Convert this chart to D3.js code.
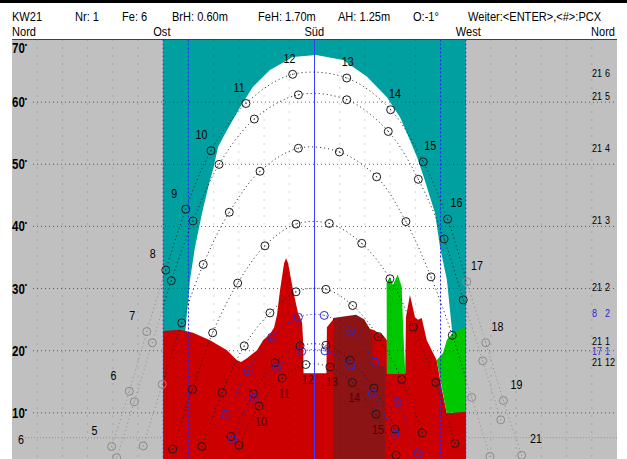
<!DOCTYPE html>
<html>
<head>
<meta charset="utf-8">
<script src="https://cdn.jsdelivr.net/npm/d3@7"></script>
<style>
  body { margin: 0; background: #fff; }
  svg text { font-family: "Liberation Sans", Arial, sans-serif; }
</style>
</head>
<body>
<div id="chart"></div>
<script>
// header texts
var headerTexts = ["KW21", "Nr: 1", "Fe: 6", "BrH: 0.60m", "FeH: 1.70m", "AH: 1.25m", "O:-1\u00b0", "Weiter:<ENTER>,<#>:PCX"];
var headerX = [12, 75, 122, 172, 258, 338, 413, 468];

// compass directions (azimuth in degrees)
var compassNames = ["Nord", "Ost", "S\u00fcd", "West", "Nord"];
var compassAz = [0, 90, 180, 270, 360];

// elevation ticks
var elevTicks = [10, 20, 30, 40, 50, 60, 70];

// sun paths, [azimuth, elevation] for each full hour
var dateLabels = ["21 6", "21 5", "21 4", "21 3", "21 2", "8 2", "21 1", "17 1", "21 12"];
var dateLabelElev = [64.6, 60.8, 52.5, 41.0, 30.2, 25.9, 21.5, 19.8, 18.0];
var dateBlue = [false, false, false, false, false, true, false, true, false];
var firstHour = [5, 5, 6, 7, 8, 9, 9, 9, 9];

var path21_6 = [[59.3,4.5],[69.8,13.4],[80.2,23.0],[91.5,32.9],[103.4,42.7],[118.4,52.1],[139.2,59.7],[167.0,64.4],
                [199.2,63.8],[225.3,58.7],[244.7,50.3],[259.2,41.1],[270.6,31.0],[281.9,21.2],[292.4,11.9],[303.3,3.1]];
var path21_5 = [[62.3,2.7],[72.8,11.7],[83.5,21.2],[94.8,31.2],[107.7,40.8],[123.2,49.9],[144.2,57.2],[170.4,61.1],
                [199.2,60.3],[223.9,55.2],[241.8,47.5],[257.1,37.9],[268.5,28.1],[280.1,18.3],[290.8,8.8]];
var path21_4 = [[78.1,4.6],[89.4,14.5],[101.0,24.4],[113.8,33.8],[129.3,42.2],[147.6,48.8],[170.4,52.5],
                [194.8,51.9],[217.0,47.9],[234.4,40.7],[249.3,31.8],[262.0,22.4],[273.5,12.4],[284.4,2.9]];
var path21_3 = [[95.6,4.1],[107.3,13.7],[119.4,22.8],[134.3,30.8],[150.5,36.8],[169.0,40.3],
                [188.8,40.4],[208.1,37.2],[224.9,31.5],[238.8,23.7],[252.1,14.8],[263.6,5.0]];
var path21_2 = [[112.9,4.5],[125.1,13.2],[138.2,20.7],[153.5,26.0],[169.0,29.4],
                [186.8,29.8],[202.7,27.2],[218.0,22.2],[231.9,15.3],[244.1,6.7]];
var path8_2  = [[127.2,9.7],[140.6,16.7],[154.5,22.1],[170.4,25.3],
                [185.8,25.6],[201.5,23.1],[216.0,18.1],[229.3,11.6],[241.8,3.4]];
var path21_1 = [[130.3,6.1],[143.6,13.0],[156.5,18.0],[171.4,20.7],
                [186.8,20.8],[201.1,18.4],[215.4,13.9],[227.9,7.3]];
var path17_1 = [[131.3,5.6],[144.0,12.3],[157.5,17.2],[172.4,19.8],
                [186.2,19.9],[201.5,17.6],[214.4,13.0],[227.9,6.5]];
var path21_12 = [[135.1,4.7],[147.0,11.0],[160.8,15.5],[174.8,17.7],
                 [189.2,17.3],[202.5,14.8],[216.6,9.7],[228.5,3.1]];
var sunPaths = [path21_6, path21_5, path21_4, path21_3, path21_2, path8_2, path21_1, path17_1, path21_12];

// horizon outlines [azimuth, elevation]
var domeOutline = [[102.9,0],[102.9,22.4],[105.9,31.3],[108.9,36.6],[113.1,42.1],[117.8,47.4],[119.6,49.0],[122.6,52.7],
                   [127.9,55.4],[135.7,59.1],[143.4,62.4],[153.5,65.1],[167.2,67.2],[180.9,67.5],[197.0,66.7],
                   [211.3,64.0],[223.1,60.7],[230.9,57.5],[236.8,53.8],[241.0,51.1],[245.2,47.7],[251.7,42.1],
                   [254.7,36.6],[258.8,31.3],[261.8,23.3],[263.0,18.4],[263.0,0]];
var redOutline = [[90.0,0],[90.0,23.1],[100.0,23.3],[107.7,22.8],[117.8,21.6],[127.9,20.0],[133.9,18.4],[136.3,18.1],
                  [139.8,18.7],[145.8,20.0],[149.4,21.6],[153.5,22.6],[155.9,23.6],[157.7,25.7],[159.5,29.7],
                  [161.9,34.0],[163.1,34.8],[164.3,34.0],[167.2,29.7],[170.2,26.0],[172.6,24.5],[173.2,21.6],
                  [173.5,16.3],[187.1,16.3],[187.4,23.7],[191.0,24.9],[214.8,23.3],[220.8,22.4],[223.1,21.6],
                  [223.1,16.3],[234.0,16.3],[234.4,25.3],[236.8,28.9],[239.8,25.3],[241.6,24.9],[243.8,25.2],
                  [246.8,21.6],[252.7,18.4],[255.3,14.4],[258.7,9.9],[270.1,10.1],[270.1,0]];
var darkRedOutline = [[191.0,0],[191.0,25.2],[204.7,25.7],[209.5,25.0],[214.2,22.9],[214.8,17.8],[222.0,17.5],[222.0,0]];
var greenOutlineA = [[223.1,16.3],[222.9,30.8],[224.9,31.8],[226.7,30.5],[229.5,32.2],[231.9,30.2],[232.8,23.3],[234.0,16.3]];
var greenOutlineB = [[252.7,18.4],[256.5,19.6],[258.8,21.7],[262.4,22.8],[266.6,23.3],[270.1,23.8],[270.1,10.1],[258.7,9.9]];

var W = 627, H = 459;
var x = d3.scaleLinear().domain([0, 360]).range([12, 617]);
var y = d3.scaleLinear().domain([0, 70]).range([474.5, 39.5]);
var NARROW = 0.82;

var svg = d3.select("#chart").append("svg")
    .attr("width", W)
    .attr("height", H);

// narrow text helper
function label(parent, px, py, s, size) {
    return parent.append("text")
        .attr("transform", "translate(" + px + "," + py + ") scale(" + NARROW + ",1)")
        .attr("font-size", size)
        .text(s);
}

svg.append("rect").attr("width", W).attr("height", H).attr("fill", "#fff");
svg.append("rect").attr("width", W).attr("height", 3).attr("fill", "#000");

// header
headerTexts.forEach(function(d, i) {
    label(svg, headerX[i], 21, d, 13.5);
});
compassNames.forEach(function(d, i) {
    if (i == 0) label(svg, 12, 36, d, 13.5);
    else if (i == 4) label(svg, 615, 36, d, 13.5).attr("text-anchor", "end");
    else label(svg, x(compassAz[i]) - 10, 36, d, 13.5);
});

svg.append("clipPath").attr("id", "plotclip")
    .append("rect")
    .attr("x", x(0)).attr("y", y(70))
    .attr("width", x(360) - x(0)).attr("height", H - y(70));
svg.append("clipPath").attr("id", "inwin")
    .append("rect")
    .attr("x", x(90)).attr("y", 0)
    .attr("width", x(270) - x(90)).attr("height", H);
var outClip = svg.append("clipPath").attr("id", "outwin");
outClip.append("rect").attr("x", 0).attr("y", 0).attr("width", x(90)).attr("height", H);
outClip.append("rect").attr("x", x(270)).attr("y", 0).attr("width", W - x(270)).attr("height", H);

var plot = svg.append("g").attr("clip-path", "url(#plotclip)");

plot.append("rect")
    .attr("x", x(0)).attr("y", y(70))
    .attr("width", x(360) - x(0)).attr("height", H - y(70))
    .attr("fill", "#c0c0c0");

plot.append("rect")
    .attr("x", x(90)).attr("y", y(70))
    .attr("width", x(270) - x(90)).attr("height", H - y(70))
    .attr("fill", "#00a0a0");

var shape = d3.line()
    .x(function(d) { return x(d[0]); })
    .y(function(d) { return y(d[1]); });

plot.append("path").attr("d", shape(domeOutline) + "Z").attr("fill", "#fff");
plot.append("path").attr("d", shape(redOutline) + "Z").attr("fill", "#cc0000");
plot.append("path").attr("d", shape(darkRedOutline) + "Z").attr("fill", "#8c1414");
plot.append("path").attr("d", shape(greenOutlineA) + "Z").attr("fill", "#00c800");
plot.append("path").attr("d", shape(greenOutlineB) + "Z").attr("fill", "#00c800");

// grey dotted verticals every 15 degrees
plot.selectAll("line.vgrid")
    .data(d3.range(15, 360, 15))
    .enter()
    .append("line")
    .attr("x1", function(d) { return x(d); })
    .attr("x2", function(d) { return x(d); })
    .attr("y1", y(70)).attr("y2", H)
    .attr("stroke", "rgba(0,0,0,0.3)")
    .attr("stroke-dasharray", "1,7");

// blue dotted elevation lines
plot.selectAll("line.hgrid")
    .data(elevTicks.slice(0, 6))
    .enter()
    .append("line")
    .attr("x1", 33).attr("x2", x(360))
    .attr("y1", function(d) { return y(d) + 0.5; })
    .attr("y2", function(d) { return y(d) + 0.5; })
    .attr("stroke", "rgba(30,30,255,0.75)")
    .attr("stroke-dasharray", "1,3");

// window edges and south line
[90, 105, 255, 270].forEach(function(a) {
    plot.append("line")
        .attr("x1", x(a)).attr("x2", x(a))
        .attr("y1", y(70)).attr("y2", H)
        .attr("stroke", "#2828ff")
        .attr("stroke-dasharray", "2,2");
});
plot.append("line")
    .attr("x1", x(180)).attr("x2", x(180))
    .attr("y1", y(70)).attr("y2", H)
    .attr("stroke", "#3c3cff");

// 6 degree line
[[x(0) + 13, x(90)], [x(270), x(360)]].forEach(function(seg) {
    plot.append("line")
        .attr("x1", seg[0]).attr("x2", seg[1])
        .attr("y1", y(6) + 0.5).attr("y2", y(6) + 0.5)
        .attr("stroke", "#909090")
        .attr("stroke-dasharray", "1,2");
});

function pathColor(i, az) {
    if (dateBlue[i]) return "#2a2ad0";
    if (az < 90 || az > 270) return "#8a8a8a";
    return "#1a1a1a";
}

var curve = d3.line()
    .x(function(d) { return x(d[0]); })
    .y(function(d) { return y(d[1]); })
    .curve(d3.curveCatmullRom);

var inGroup = plot.append("g").attr("clip-path", "url(#inwin)");
var outGroup = plot.append("g").attr("clip-path", "url(#outwin)");

sunPaths.forEach(function(pts, i) {
    inGroup.append("path")
        .attr("d", curve(pts))
        .attr("fill", "none")
        .attr("stroke", dateBlue[i] ? "#2a2ad0" : "#202020")
        .attr("stroke-dasharray", "1,3");
    outGroup.append("path")
        .attr("d", curve(pts))
        .attr("fill", "none")
        .attr("stroke", dateBlue[i] ? "#2a2ad0" : "#8a8a8a")
        .attr("stroke-dasharray", "1,3");

    var circ = plot.append("g").selectAll("g")
        .data(pts)
        .enter()
        .append("g")
        .attr("transform", function(d) { return "translate(" + x(d[0]) + "," + y(d[1]) + ")"; });
    circ.append("circle")
        .attr("r", 4)
        .attr("fill", "none")
        .attr("stroke", function(d) { return pathColor(i, d[0]); });
    circ.append("rect")
        .attr("x", -0.5).attr("y", -0.5).attr("width", 1).attr("height", 1)
        .attr("fill", function(d) { return pathColor(i, d[0]); });
});

// hour labels on the June path
path21_6.slice(0, 15).forEach(function(d, i) {
    label(plot, x(d[0]) + (d[0] - 180) * 0.13 - 1.5, y(d[1]) - 16, firstHour[0] + i, 13)
        .attr("text-anchor", "middle")
        .attr("dominant-baseline", "central")
        .attr("fill", "#000");
});

// hour labels on the December path
path21_12.slice(1, 7).forEach(function(d, i) {
    label(plot, x(d[0]) + 2, y(d[1]) + 15, firstHour[8] + 1 + i, 13)
        .attr("text-anchor", "middle")
        .attr("dominant-baseline", "central")
        .attr("fill", "#500000");
});

// date labels at the right
dateLabels.forEach(function(s, i) {
    var parts = s.split(" ");
    var col = dateBlue[i] ? "#2a2ad0" : "#000";
    label(plot, 592, y(dateLabelElev[i]), parts[0], 11)
        .attr("dominant-baseline", "central")
        .attr("fill", col);
    label(plot, 605, y(dateLabelElev[i]), parts[1], 11)
        .attr("dominant-baseline", "central")
        .attr("fill", col);
});

// 6 degree line labels
label(plot, 18, y(6) + 2, "6", 13).attr("dominant-baseline", "central");
label(plot, 530, y(6) + 1, "21", 13).attr("dominant-baseline", "central");

// elevation labels
elevTicks.forEach(function(d) {
    var t = label(svg, 12, d == 70 ? y(d) + 8 : y(d), "", 14)
        .attr("dominant-baseline", "central")
        .attr("font-weight", "bold")
        .attr("fill", "#000");
    t.append("tspan").text(d);
    t.append("tspan").attr("dy", -4).attr("font-size", 8).text("\u2022");
});

// plot frame
svg.append("line").attr("x1", x(0)).attr("x2", x(360)).attr("y1", y(70)).attr("y2", y(70))
    .attr("stroke", "#404040");
</script>
</body>
</html>
